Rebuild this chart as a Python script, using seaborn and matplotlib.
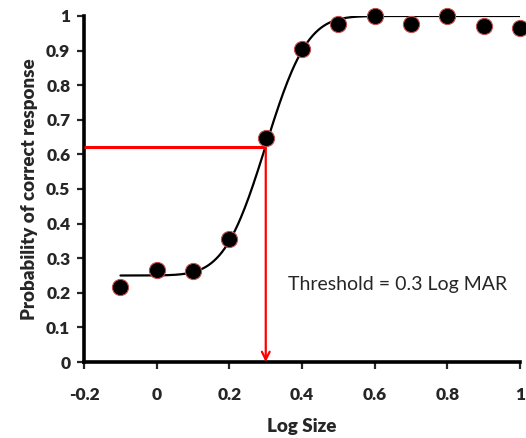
import math
import numpy as np
import pandas as pd
import matplotlib
matplotlib.use("Agg")
import matplotlib.pyplot as plt
import seaborn as sns

# Observed proportion correct at each log stimulus size
log_size = [-0.1, 0.0, 0.1, 0.2, 0.3, 0.4, 0.5, 0.6, 0.7, 0.8, 0.9, 1.0]
p_correct = [0.218, 0.266, 0.262, 0.356, 0.648, 0.906, 0.977, 1.0, 0.977, 1.0, 0.97, 0.966]

# Fitted psychometric function parameters
guess_rate = 0.25
threshold = 0.3
spread = 0.09
threshold_p = 0.62

x_ticks = [-0.2, 0, 0.2, 0.4, 0.6, 0.8, 1]
y_ticks = [0, 0.1, 0.2, 0.3, 0.4, 0.5, 0.6, 0.7, 0.8, 0.9, 1]

sns.set_style("ticks")
plt.rcParams["font.family"] = ["Lato", "DejaVu Sans"]

obs = pd.DataFrame({"size": log_size, "p": p_correct})
xs = np.linspace(min(log_size), max(log_size), 300)
fit = pd.DataFrame({
    "size": xs,
    "p": [guess_rate + (1 - guess_rate) * 0.5 * (1 + math.erf((v - threshold) / (spread * math.sqrt(2)))) for v in xs],
})

fig = plt.figure(figsize=(5.26, 4.38), dpi=100)
ax = fig.add_axes([0.16, 0.1735, 0.8286, 0.79])

sns.lineplot(data=fit, x="size", y="p", color="black", linewidth=1.6, ax=ax)

# Threshold markers
ax.plot([-0.2, threshold], [threshold_p, threshold_p], color="#ff0000", linewidth=2.2, solid_capstyle="butt", zorder=3)
ax.annotate("", xy=(threshold, 0.0), xytext=(threshold, threshold_p),
            arrowprops=dict(arrowstyle="->", color="#ff0000", lw=1.6,
                            mutation_scale=14, shrinkA=0, shrinkB=0), zorder=3)

sns.scatterplot(data=obs, x="size", y="p", s=135, color="black",
                edgecolor="#c0504d", linewidth=0.8, zorder=4, ax=ax, clip_on=False)

ax.text(0.36, 0.225, "Threshold = 0.3 Log MAR", fontsize=14, va="center", ha="left")

ax.set_xlim(-0.2, 1)
ax.set_ylim(0, 1)
ax.set_xticks(x_ticks)
ax.set_xticklabels(["-0.2", "0", "0.2", "0.4", "0.6", "0.8", "1"])
ax.set_yticks(y_ticks)
ax.set_yticklabels(["0", "0.1", "0.2", "0.3", "0.4", "0.5", "0.6", "0.7", "0.8", "0.9", "1"])
ax.tick_params(axis="both", direction="out", length=5, width=1.6, labelsize=12.5, pad=5)
for lbl in ax.get_xticklabels() + ax.get_yticklabels():
    lbl.set_fontweight("heavy")
ax.tick_params(axis="x", pad=13)

ax.set_xlabel("Log Size", fontsize=13.5, fontweight="heavy", labelpad=11)
ax.set_ylabel("Probability of correct response", fontsize=13.5, fontweight="heavy", labelpad=6)

sns.despine(ax=ax)
for side in ["left", "bottom"]:
    ax.spines[side].set_linewidth(2.6)
    ax.spines[side].set_color("black")

fig.savefig("out.png", dpi=100)
